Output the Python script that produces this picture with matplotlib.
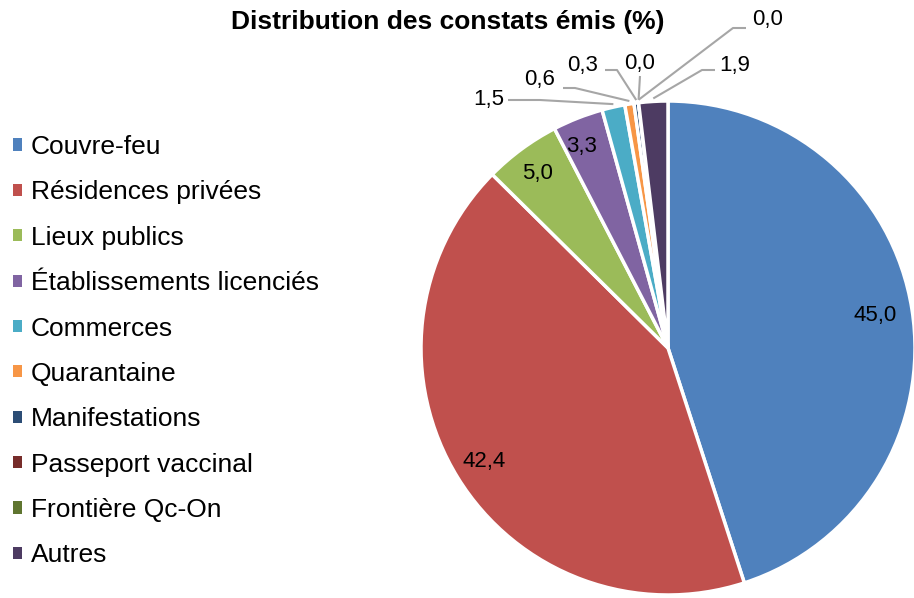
import numpy as np
import matplotlib.pyplot as plt
from matplotlib.patches import Patch

plt.rcParams['font.family'] = ['Liberation Sans', 'DejaVu Sans']

categories = ['Couvre-feu', 'Résidences privées', 'Lieux publics',
              'Établissements licenciés', 'Commerces', 'Quarantaine',
              'Manifestations', 'Passeport vaccinal', 'Frontière Qc-On', 'Autres']
values = [45.0, 42.4, 5.0, 3.3, 1.5, 0.6, 0.3, 0.0, 0.0, 1.9]
colors = ['#4F81BD', '#C0504D', '#9BBB59', '#8064A2', '#4BACC6',
          '#F79646', '#2C4D75', '#772C2A', '#5F7530', '#4D3B62']
title = 'Distribution des constats émis (%)'

W, H = 914, 598
fig = plt.figure(figsize=(W / 100, H / 100), dpi=100)
ax = fig.add_axes([0, 0, 1, 1])

# pixel coords from top-left -> data coords (y up)
def P(x, y):
    return x, H - y

cx, cy = P(668, 348)
r = 247

wedges, _ = ax.pie(values, colors=colors, startangle=90, counterclock=False,
                   center=(cx, cy), radius=r,
                   wedgeprops=dict(edgecolor='white', linewidth=2.5))
ax.set_xlim(0, W)
ax.set_ylim(0, H)
ax.set_aspect('equal')
ax.axis('off')

def fmt(v):
    return f'{v:.1f}'.replace('.', ',')

def edge_point(w, frac=1.0):
    a = np.deg2rad((w.theta1 + w.theta2) / 2)
    return cx + frac * r * np.cos(a), cy + frac * r * np.sin(a)

# labels inside the big slices (distance, x nudge)
inside = {0: (0.85, 0), 1: (0.875, 0), 2: (0.875, -2), 3: (0.875, -8)}
for i, (d, dx) in inside.items():
    x, y = edge_point(wedges[i], d)
    ax.text(x + dx, y, fmt(values[i]), ha='center', va='center', fontsize=16)

# outside labels with leader lines: (text pos, elbow points)
outside = {
    4: ((489, 100), [(508, 100), (540, 100)]),
    5: ((540, 80), [(563, 88), (575, 88)]),
    6: ((583, 65), [(605, 70), (617, 70)]),
    7: ((640, 63), [(640, 76)]),
    8: ((768, 20), [(746, 28), (733, 28)]),
    9: ((735, 65), [(715, 70), (702, 70)]),
}
for i, (tp, pts) in outside.items():
    ax.text(*P(*tp), fmt(values[i]), ha='center', va='center', fontsize=16)
    ex, ey = edge_point(wedges[i], 1.0)
    xs = [p[0] for p in pts] + [ex]
    ys = [H - p[1] for p in pts] + [ey + 3]
    ax.plot(xs, ys, color='#A6A6A6', lw=1.5, solid_capstyle='butt')

ax.text(*P(448, 22), title, ha='center', va='center', fontsize=19, fontweight='bold')

handles = [Patch(facecolor=c, edgecolor='none') for c in colors]
leg = ax.legend(handles, categories, loc='upper left',
                bbox_to_anchor=(13 / W, 1 - 135 / H), frameon=False,
                fontsize=19, handlelength=0.33, handleheight=0.33,
                handletextpad=0.35, labelspacing=0.81,
                borderaxespad=0, borderpad=0)

fig.savefig('out.png', dpi=100)
